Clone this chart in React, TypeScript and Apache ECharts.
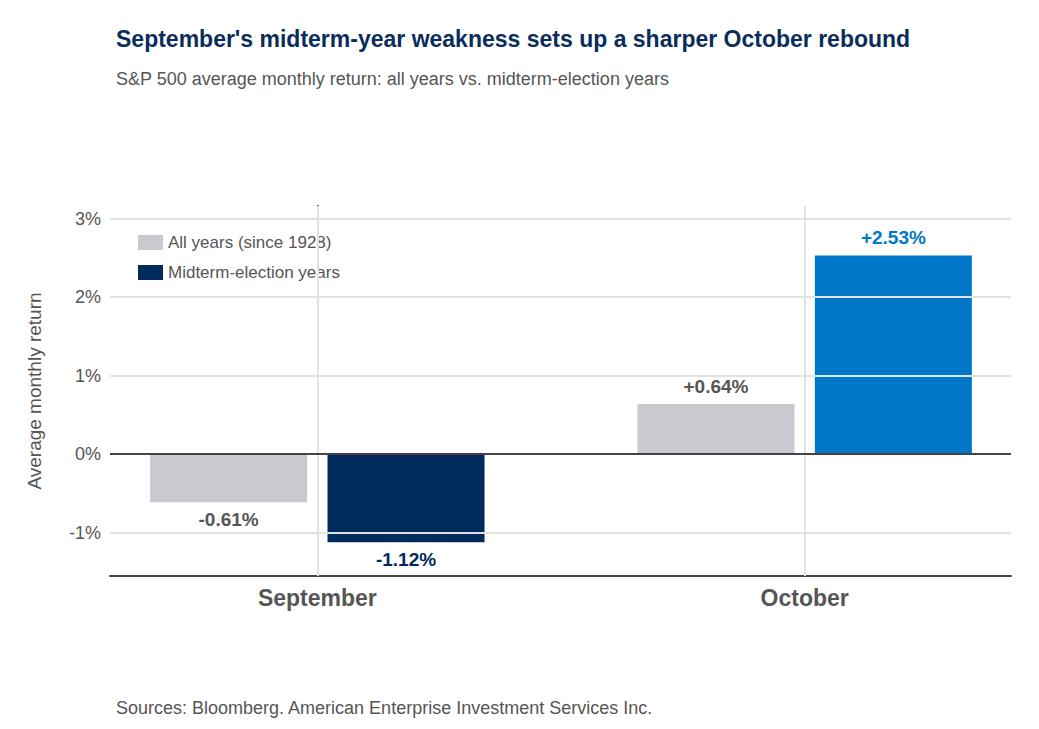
import { useEffect, useRef } from 'react'
import * as echarts from 'echarts'

// positions on the x value axis: 0 = September, 1 = October
const months = ['September', 'October']
const allYears = [-0.61, 0.64]
const midtermYears = [-1.12, 2.53]
const yTicks = [-1, 0, 1, 2, 3]

const GREY = '#c8cacf'
const NAVY = '#002b5c'
const BLUE = '#0077c8'
const TEXT = '#555555'

const fmt = (v: number) => (v > 0 ? '+' : '') + v.toFixed(2) + '%'

export default function App() {
  const ref = useRef<HTMLDivElement>(null)

  useEffect(() => {
    if (!ref.current) return
    const chart = echarts.init(ref.current, null, { renderer: 'svg' })

    const barLabel = (v: number, color: string) => ({
      show: true,
      position: v >= 0 ? 'top' : 'bottom',
      distance: 8,
      formatter: fmt(v),
      color,
      fontSize: 19,
      fontWeight: 'bold',
    })

    const option: echarts.EChartsOption = {
      animation: false,
      textStyle: { fontFamily: 'Liberation Sans, Arial, sans-serif' },
      title: [
        {
          text: "September's midterm-year weakness sets up a sharper October rebound",
          left: 103, top: 14,
          textStyle: { fontSize: 23, fontWeight: 'bold', color: '#0b2d5b' },
        },
        {
          text: 'S&P 500 average monthly return: all years vs. midterm-election years',
          left: 103, top: 57,
          textStyle: { fontSize: 18, fontWeight: 'normal', color: TEXT },
        },
        {
          text: 'Sources: Bloomberg. American Enterprise Investment Services Inc.',
          left: 103, top: 686,
          textStyle: { fontSize: 18, fontWeight: 'normal', color: TEXT },
        },
      ],
      legend: {
        orient: 'vertical', left: 125, top: 221,
        itemWidth: 25, itemHeight: 15, itemGap: 13,
        icon: 'rect',
        textStyle: { fontSize: 17, color: TEXT },
        data: ['All years (since 1928)', 'Midterm-election years'],
      },
      grid: { left: 102, right: 20, top: 198, bottom: 145 },
      xAxis: {
        type: 'value',
        min: -0.4254, max: 1.4234,
        axisLine: { show: true, onZero: false, lineStyle: { color: '#444', width: 2 } },
        axisTick: { show: false },
        splitLine: { show: false },
        axisLabel: {
          customValues: [0, 1],
          formatter: (v: number) => months[Math.round(v)] ?? '',
          fontSize: 23, fontWeight: 'bold', color: TEXT, margin: 10,
        },
      },
      yAxis: {
        type: 'value',
        min: -1.55, max: 3.16,
        name: 'Average monthly return',
        nameLocation: 'middle', nameGap: 66,
        nameTextStyle: { fontSize: 19, color: TEXT },
        axisLine: { show: true, lineStyle: { color: '#444', width: 2 } },
        axisTick: { show: false },
        splitLine: { show: false },
        axisLabel: {
          customValues: yTicks,
          formatter: (v: number) => Math.round(v) + '%',
          fontSize: 18, color: TEXT, margin: 9,
        },
      },
      series: [
        {
          type: 'line', data: [], z: 0, silent: true,
          markLine: {
            silent: true, symbol: 'none', label: { show: false },
            lineStyle: { color: '#e2e2e2', width: 2, type: 'solid' },
            data: [
              ...yTicks.filter(t => t !== 0).map(t => ({ yAxis: t })),
              ...months.map((_, i) => ({ xAxis: i })),
              { yAxis: 0, lineStyle: { color: '#444', width: 2 } },
            ],
          },
        },
        {
          name: 'All years (since 1928)', type: 'bar', z: 2,
          barWidth: 157, barGap: '13%',
          itemStyle: { color: GREY },
          data: allYears.map((v, i) => ({ value: [i, v], label: barLabel(v, TEXT) })),
        },
        {
          name: 'Midterm-election years', type: 'bar', z: 2,
          barWidth: 157, barGap: '13%',
          itemStyle: { color: NAVY },
          data: midtermYears.map((v, i) => ({
            value: [i, v],
            itemStyle: { color: i === 1 ? BLUE : NAVY },
            label: barLabel(v, i === 1 ? BLUE : NAVY),
          })),
        },
      ] as any,
    }

    chart.setOption(option)
    return () => chart.dispose()
  }, [])

  return <div ref={ref} style={{ width: 1023, height: 713 }} />
}
